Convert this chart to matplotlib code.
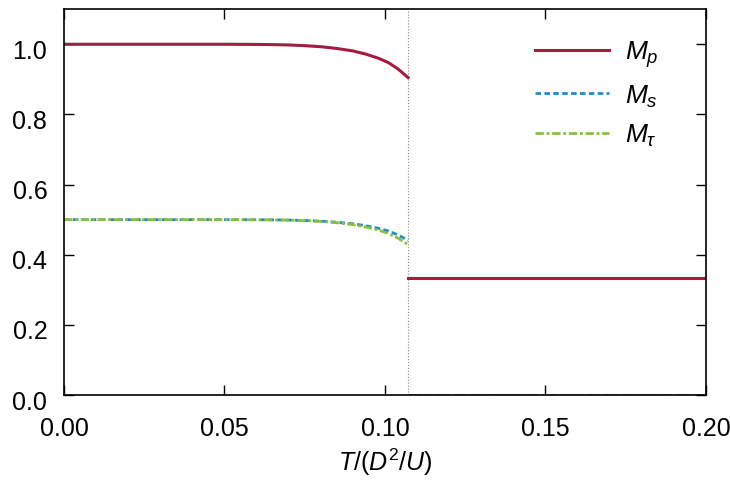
import numpy as np
import matplotlib.pyplot as plt
import matplotlib.transforms as mtransforms

plt.rcParams['font.family'] = ['Liberation Sans', 'DejaVu Sans']
plt.rcParams['mathtext.fontset'] = 'custom'
plt.rcParams['mathtext.rm'] = 'Liberation Sans'
plt.rcParams['mathtext.it'] = 'Liberation Sans:italic'

# transition temperature
t_c = 0.1072

# ordered phase (T < Tc)
t_low = [0.0, 0.03, 0.05, 0.06, 0.065, 0.07, 0.075, 0.08, 0.085, 0.09,
         0.094, 0.098, 0.101, 0.104, 0.1072]
mp_low = [1.0, 1.0, 1.0, 0.9995, 0.999, 0.998, 0.996, 0.993, 0.988, 0.981,
          0.972, 0.960, 0.948, 0.930, 0.905]
ms_low = [0.5, 0.5, 0.5, 0.4997, 0.4994, 0.4988, 0.4975, 0.4957, 0.4926, 0.4882,
          0.4826, 0.4752, 0.4678, 0.4566, 0.441]
mt_low = [0.5, 0.5, 0.5, 0.4996, 0.4993, 0.4985, 0.497, 0.4948, 0.491, 0.4858,
          0.479, 0.470, 0.461, 0.4475, 0.429]

# disordered phase (T > Tc)
t_high = [0.1072, 0.2]
mp_high = [0.333, 0.333]
ms_high = [0.0, 0.0]
mt_high = [0.0, 0.0]

c_p = '#a51c3f'
c_s = '#1e8ad2'
c_t = '#88c13a'

fig = plt.figure(figsize=(7.3, 4.85), dpi=100)
ax = fig.add_axes([0.0877, 0.1835, 0.8793, 0.7955])

ax.axvline(t_c, color='#888888', lw=0.8, ls=':')

ax.plot(t_low, mp_low, color=c_p, lw=2.2, label=r'$M_p$')
ax.plot(t_high, mp_high, color=c_p, lw=2.2)
ax.plot(t_low, ms_low, color=c_s, lw=2.0, ls=(0, (2, 1.2)), label=r'$M_s$')
ax.plot(t_high, ms_high, color=c_s, lw=2.0, ls=(0, (2, 1.2)))
ax.plot(t_low, mt_low, color=c_t, lw=2.0, ls=(0, (3, 1, 1, 1)), label=r'$M_\tau$')
ax.plot(t_high, mt_high, color=c_t, lw=2.0, ls=(0, (3, 1, 1, 1)))

ax.set_xlim(0, 0.2)
ax.set_ylim(0, 1.1)
ax.set_xticks([0.0, 0.05, 0.10, 0.15, 0.20])
ax.set_xticklabels(['0.00', '0.05', '0.10', '0.15', '0.20'])
ax.set_yticks([0.0, 0.2, 0.4, 0.6, 0.8, 1.0])
ax.set_yticklabels(['0.0', '0.2', '0.4', '0.6', '0.8', '1.0'])
ax.tick_params(direction='in', top=True, right=True, labelsize=18, length=7, width=1)
ax.tick_params(axis='x', pad=15)
ax.tick_params(axis='y', pad=12)
shift = mtransforms.ScaledTranslation(0, -4 / 100, fig.dpi_scale_trans)
for lab in ax.get_yticklabels():
    lab.set_transform(lab.get_transform() + shift)
for s in ax.spines.values():
    s.set_linewidth(1.2)

ax.set_xlabel(r'$T\mathrm{/(}D^{2}\mathrm{/}U\mathrm{)}$', fontsize=18, labelpad=4)

leg = ax.legend(loc='upper right', frameon=False, fontsize=19, handlelength=2.8,
                handletextpad=0.6, labelspacing=0.5, bbox_to_anchor=(0.963, 0.985))

fig.savefig('out.png', dpi=100)
